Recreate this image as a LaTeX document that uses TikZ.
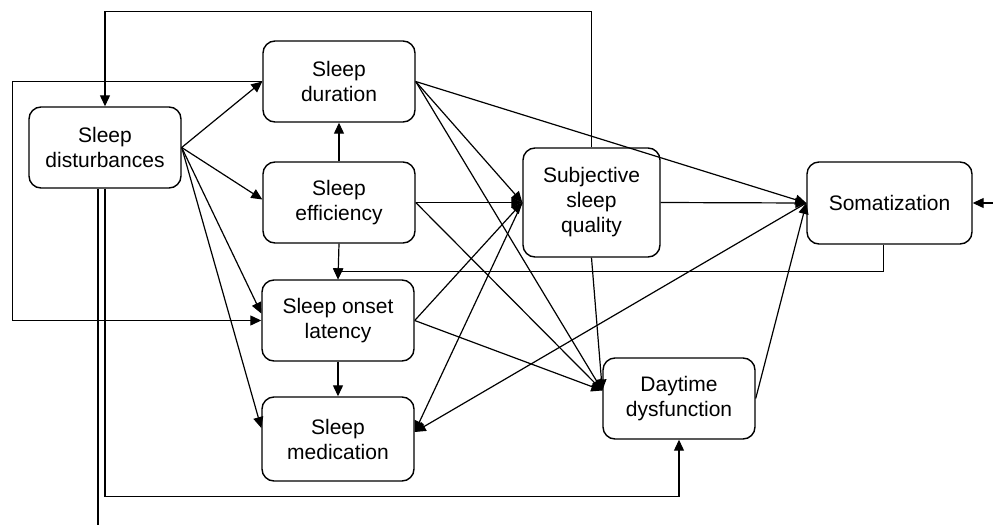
\documentclass[tikz,border=0pt]{standalone}
\usepackage{fontspec}
\setmainfont{Liberation Sans}
\usetikzlibrary{arrows.meta,calc}
\begin{document}
\begin{tikzpicture}[x=1pt,y=-1pt,
  box/.style={draw, line width=1.4pt, rounded corners=12pt, align=center,
    font=\fontsize{21}{25}\selectfont, inner sep=0pt},
  arr/.style={-{Triangle[length=11pt,width=10pt]}, line width=1.2pt},
  ln/.style={line width=1.2pt}]
\useasboundingbox (0,0) rectangle (993,525);

\node[box, minimum width=152pt, minimum height=81pt] (dist)  at (105,147.5) {Sleep\\disturbances};
\node[box, minimum width=152pt, minimum height=81pt] (dur)   at (339,81.5)  {Sleep\\duration};
\node[box, minimum width=152pt, minimum height=81pt] (eff)   at (339,202.5) {Sleep\\efficiency};
\node[box, minimum width=152pt, minimum height=81pt] (onset) at (338,320.5) {Sleep onset\\latency};
\node[box, minimum width=152pt, minimum height=84pt] (med)   at (338,439)   {Sleep\\medication};
\node[box, minimum width=137pt, minimum height=109pt] (ssq)  at (591.5,202.5) {Subjective\\sleep\\quality};
\node[box, minimum width=165pt, minimum height=82pt] (som)   at (889.5,203) {Somatization};
\node[box, minimum width=152pt, minimum height=81pt] (day)   at (679,398.5) {Daytime\\dysfunction};

\coordinate (free) at (98,525);
\coordinate (rin) at (993,203);

% from sleep disturbances
\draw[arr] (dist.east) -- (dur.west);
\draw[arr] (dist.east) -- ([yshift=3pt]eff.west);
\draw[arr] (dist.east) -- ([yshift=7pt]onset.west);
\draw[arr] (dist.east) -- ([yshift=11pt]med.west);

% vertical chain
\draw[arr] (eff.north) -- (dur.south);
\draw[arr] (eff.south) -- (onset.north);
\draw[arr] (onset.south) -- (med.north);

% to subjective sleep quality
\draw[arr] (dur.east) -- (ssq.west);
\draw[arr] (eff.east) -- (ssq.west);
\draw[arr] (onset.east) -- (ssq.west);

% to daytime dysfunction
\draw[arr] (dur.east) -- ([yshift=8pt]day.west);
\draw[arr] (eff.east) -- ([yshift=8pt]day.west);
\draw[arr] (onset.east) -- ([yshift=8pt]day.west);
\draw[arr] (ssq.south) -- ([yshift=8pt]day.west);

% to somatization
\draw[arr] (dur.east) -- (som.west);
\draw[arr] (ssq.east) -- (som.west);
\draw[arr] (day.east) -- (som.west);
\draw[arr] (rin) -- (som.east);

% to sleep medication
\draw[arr] (ssq.west) -- ([yshift=7pt]med.east);
\draw[arr] (som.west) -- ([yshift=7pt]med.east);

% feedback loops
\draw[arr] (ssq.north) -- ++(0,-136) -| (dist.north);
\draw[arr] (dur.west) -- ++(-250,0) |- (onset.west);
\draw[arr] ([xshift=-6pt]som.south) -- ++(0,27) -| (onset.north);
\draw[arr] (dist.south) -- ++(0,308) -| (day.south);
\draw[ln] ([xshift=-7pt]dist.south) -- (free);
\end{tikzpicture}
\end{document}
